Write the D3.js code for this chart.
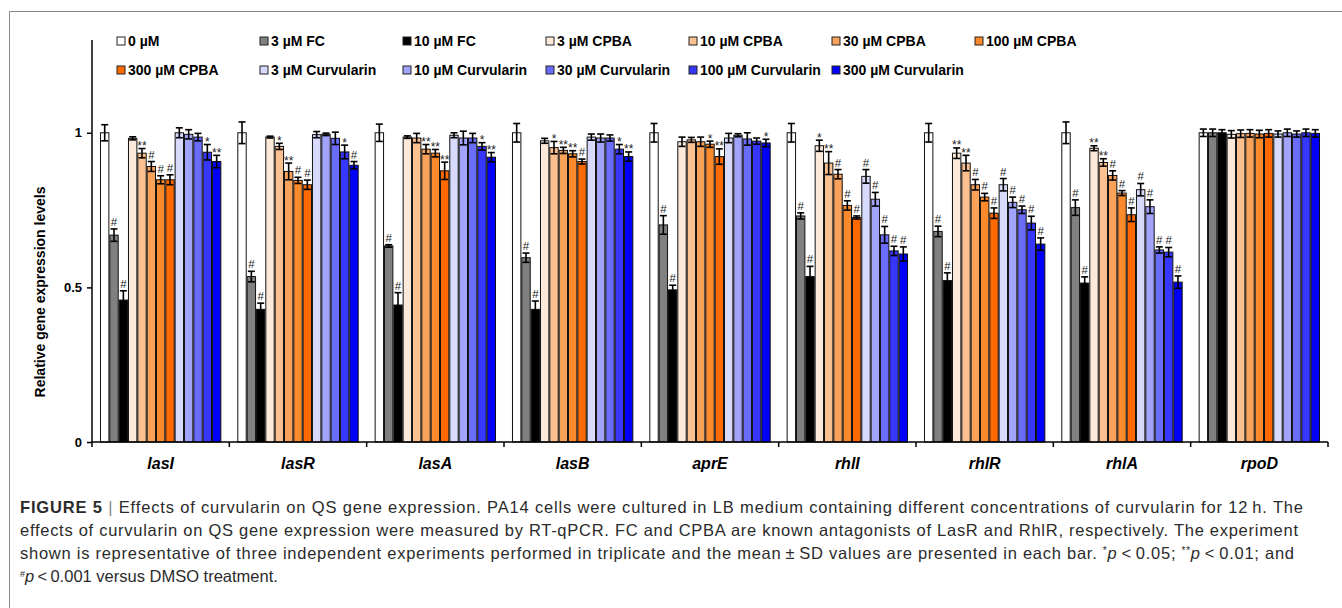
<!DOCTYPE html>
<html>
<head>
<meta charset="utf-8">
<script src="https://cdn.jsdelivr.net/npm/d3@7"></script>
<style>
  body { margin: 0; background: #fff; }
  svg { display: block; font-family: Arial, "Liberation Sans", Helvetica, sans-serif; }
</style>
</head>
<body>
<div id="top"></div>
<script>
// genes on the x axis
var genes = ['lasI', 'lasR', 'lasA', 'lasB', 'aprE', 'rhlI', 'rhlR', 'rhlA', 'rpoD'];

// treatments (legend order)
var series = ['0 µM', '3 µM FC', '10 µM FC', '3 µM CPBA', '10 µM CPBA', '30 µM CPBA', '100 µM CPBA',
  '300 µM CPBA', '3 µM Curvularin', '10 µM Curvularin', '30 µM Curvularin', '100 µM Curvularin', '300 µM Curvularin'];
var colors = ['#ffffff', '#808080', '#000000', '#fde9d9', '#fac090', '#f9a25a', '#fa8a2c',
  '#ff6a00', '#d8dafd', '#a2a4fc', '#6a6cfb', '#3636fc', '#0000fa'];

// mean values, one row per gene, one column per treatment
var means = [
  [1.00, 0.669, 0.459, 0.982, 0.934, 0.891, 0.848, 0.848, 1.000, 0.995, 0.986, 0.937, 0.907],
  [1.00, 0.535, 0.429, 0.986, 0.956, 0.875, 0.846, 0.832, 0.994, 0.995, 0.982, 0.938, 0.895],
  [1.00, 0.634, 0.443, 0.986, 0.983, 0.947, 0.934, 0.877, 0.992, 0.983, 0.983, 0.956, 0.921],
  [1.00, 0.596, 0.429, 0.974, 0.952, 0.943, 0.932, 0.907, 0.986, 0.983, 0.983, 0.947, 0.923],
  [1.00, 0.702, 0.492, 0.971, 0.977, 0.971, 0.963, 0.923, 0.983, 0.992, 0.980, 0.973, 0.967],
  [1.00, 0.731, 0.535, 0.958, 0.902, 0.866, 0.765, 0.726, 0.859, 0.785, 0.670, 0.618, 0.608],
  [1.00, 0.681, 0.522, 0.934, 0.902, 0.832, 0.792, 0.740, 0.832, 0.775, 0.751, 0.708, 0.640],
  [1.00, 0.758, 0.514, 0.950, 0.904, 0.862, 0.805, 0.735, 0.816, 0.761, 0.621, 0.614, 0.517],
  [1.00, 1.000, 1.000, 0.995, 0.997, 0.998, 0.996, 0.998, 0.996, 1.000, 0.996, 1.000, 0.998]
];

// standard deviations
var errs = [
  [0.026, 0.020, 0.030, 0.005, 0.015, 0.016, 0.013, 0.016, 0.016, 0.015, 0.012, 0.025, 0.020],
  [0.035, 0.017, 0.020, 0.003, 0.010, 0.027, 0.010, 0.015, 0.010, 0.004, 0.020, 0.022, 0.012],
  [0.028, 0.004, 0.040, 0.004, 0.015, 0.015, 0.012, 0.028, 0.008, 0.022, 0.015, 0.012, 0.015],
  [0.030, 0.015, 0.027, 0.008, 0.020, 0.010, 0.010, 0.008, 0.010, 0.013, 0.010, 0.015, 0.015],
  [0.030, 0.030, 0.015, 0.015, 0.008, 0.015, 0.010, 0.025, 0.015, 0.005, 0.020, 0.010, 0.012],
  [0.030, 0.010, 0.033, 0.018, 0.037, 0.015, 0.015, 0.005, 0.022, 0.022, 0.027, 0.015, 0.023],
  [0.030, 0.017, 0.025, 0.017, 0.025, 0.017, 0.012, 0.017, 0.020, 0.017, 0.012, 0.022, 0.020],
  [0.035, 0.025, 0.020, 0.008, 0.012, 0.015, 0.008, 0.022, 0.020, 0.022, 0.010, 0.015, 0.020],
  [0.012, 0.012, 0.010, 0.012, 0.012, 0.012, 0.012, 0.012, 0.010, 0.012, 0.010, 0.012, 0.012]
];

// significance marks
var marks = [
  ['', '#', '#', '', '**', '#', '#', '#', '', '', '', '*', '**'],
  ['', '#', '#', '', '*', '**', '#', '#', '', '', '', '*', '#'],
  ['', '#', '#', '', '', '**', '**', '**', '', '', '', '*', '**'],
  ['', '#', '#', '', '*', '**', '**', '#', '', '', '', '*', '**'],
  ['', '#', '#', '', '', '', '*', '**', '', '', '', '', '*'],
  ['', '#', '#', '*', '**', '#', '#', '#', '#', '#', '#', '#', '#'],
  ['', '#', '#', '**', '**', '#', '#', '#', '#', '#', '#', '#', '#'],
  ['', '#', '#', '**', '**', '#', '#', '#', '#', '#', '#', '#', '#'],
  ['', '', '', '', '', '', '', '', '', '', '', '', '']
];

var yTicks = [0, 0.5, 1];
var yLabel = 'Relative gene expression levels';

var width = 1342, height = 608;
var svg = d3.select('#top').append('svg').attr('width', width).attr('height', height);

// figure frame (top and left rule)
svg.append('path').attr('d', 'M9.5,608V11.5H1342').attr('fill', 'none').attr('stroke', '#8a8a8a').attr('stroke-width', 1);

var plotLeft = 92, plotRight = 1328, plotBottom = 442, plotTop = 40;

var y = d3.scaleLinear().domain([0, 1.3]).range([plotBottom, plotTop]);
var x0 = d3.scaleBand().domain(genes).range([plotLeft, plotRight]).paddingInner(0.11).paddingOuter(0.055);
var x1 = d3.scaleBand().domain(d3.range(series.length)).range([0, x0.bandwidth()]).padding(0.1);

var rows = [];
genes.forEach(function(g, gi) {
  series.forEach(function(s, si) {
    rows.push({ gene: g, si: si, v: means[gi][si], e: errs[gi][si], m: marks[gi][si] });
  });
});

var plot = svg.append('g');

plot.selectAll('.bar').data(rows).enter().append('rect')
  .attr('class', 'bar')
  .attr('x', function(d) { return x0(d.gene) + x1(d.si); })
  .attr('width', x1.bandwidth())
  .attr('y', function(d) { return y(d.v); })
  .attr('height', function(d) { return y(0) - y(d.v); })
  .attr('fill', function(d) { return colors[d.si]; })
  .attr('stroke', '#111')
  .attr('stroke-width', 1);

// error bars
function cx(d) { return x0(d.gene) + x1(d.si) + x1.bandwidth() / 2; }
var eb = plot.selectAll('.err').data(rows).enter().append('g').attr('class', 'err')
  .attr('stroke', '#000').attr('stroke-width', 1.6);
eb.append('line')
  .attr('x1', cx).attr('x2', cx)
  .attr('y1', function(d) { return y(d.v - d.e); })
  .attr('y2', function(d) { return y(d.v + d.e); });
eb.append('line')
  .attr('x1', function(d) { return cx(d) - 3.5; }).attr('x2', function(d) { return cx(d) + 3.5; })
  .attr('y1', function(d) { return y(d.v + d.e); }).attr('y2', function(d) { return y(d.v + d.e); });
eb.append('line')
  .attr('x1', function(d) { return cx(d) - 3.5; }).attr('x2', function(d) { return cx(d) + 3.5; })
  .attr('y1', function(d) { return y(d.v - d.e); }).attr('y2', function(d) { return y(d.v - d.e); });

// significance marks
plot.selectAll('.mark').data(rows.filter(function(d) { return d.m; })).enter().append('text')
  .attr('class', 'mark')
  .attr('x', cx)
  .attr('y', function(d) { return y(d.v + d.e) - (d.m === '#' ? 3 : -1.5); })
  .attr('text-anchor', 'middle')
  .attr('font-size', function(d) { return d.m === '#' ? 11.5 : 12; })
  .attr('fill', '#222')
  .text(function(d) { return d.m; });

// axes
var yAxis = d3.axisLeft(y).tickValues(yTicks).tickSize(5).tickFormat(d3.format('~g'));
var gy = svg.append('g').attr('transform', 'translate(' + plotLeft + ',0)').call(yAxis);
gy.select('.domain').attr('d', 'M0,' + plotTop + 'V' + plotBottom).attr('stroke-width', 1.5);
gy.selectAll('.tick line').attr('stroke-width', 1.5);
gy.selectAll('.tick text').attr('font-size', 13).attr('font-weight', 'bold').attr('fill', '#000')
  .attr('font-family', 'Arial, "Liberation Sans", sans-serif').attr('dx', -2);

var gx = svg.append('g').attr('transform', 'translate(0,' + plotBottom + ')');
gx.append('line').attr('x1', plotLeft).attr('x2', plotRight).attr('stroke', '#000').attr('stroke-width', 1.5);
var bounds = genes.map(function(g) { return x0(g) - x0.step() * 0.055; }).concat([plotRight]);
gx.selectAll('.xt').data(bounds).enter().append('line')
  .attr('x1', function(d) { return d; }).attr('x2', function(d) { return d; })
  .attr('y1', 0).attr('y2', 5).attr('stroke', '#000').attr('stroke-width', 1.5);
gx.selectAll('.gl').data(genes).enter().append('text')
  .attr('x', function(g) { return x0(g) + x0.bandwidth() / 2; })
  .attr('y', 27)
  .attr('text-anchor', 'middle')
  .attr('font-size', 16).attr('font-weight', 'bold').attr('font-style', 'italic')
  .text(function(g) { return g; });

svg.append('text')
  .attr('transform', 'translate(45,292) rotate(-90)')
  .attr('text-anchor', 'middle')
  .attr('font-size', 14).attr('font-weight', 'bold')
  .text(yLabel);

// legend
var leg = svg.append('g').selectAll('.li').data(series).enter().append('g')
  .attr('transform', function(d, i) {
    var col = i % 7, row = Math.floor(i / 7);
    return 'translate(' + (117 + col * 143) + ',' + (41 + row * 29) + ')';
  });
leg.append('rect').attr('x', 0).attr('y', -4).attr('width', 8).attr('height', 8)
  .attr('fill', function(d, i) { return colors[i]; }).attr('stroke', '#222').attr('stroke-width', 1);
leg.append('text').attr('x', 11).attr('y', 5).attr('font-size', 14).attr('font-weight', 'bold')
  .text(function(d) { return d; });

// caption
var cap = svg.append('g').attr('fill', '#2b2b2b').attr('font-size', 16.5);
var l1 = cap.append('text').attr('x', 20).attr('y', 513).attr('textLength', 1283).attr('lengthAdjust', 'spacing');
l1.append('tspan').attr('font-weight', 'bold').text('FIGURE 5');
l1.append('tspan').attr('fill', '#888').text(' | ');
l1.append('tspan').text('Effects of curvularin on QS gene expression. PA14 cells were cultured in LB medium containing different concentrations of curvularin for 12\u2009h. The');
cap.append('text').attr('x', 20).attr('y', 536).attr('textLength', 1278).attr('lengthAdjust', 'spacing')
  .text('effects of curvularin on QS gene expression were measured by RT-qPCR. FC and CPBA are known antagonists of LasR and RhlR, respectively. The experiment');
var l3 = cap.append('text').attr('x', 20).attr('y', 559).attr('textLength', 1274).attr('lengthAdjust', 'spacing');
l3.append('tspan').text('shown is representative of three independent experiments performed in triplicate and the mean\u2009\u00b1\u2009SD values are presented in each bar. ');
l3.append('tspan').attr('font-size', 10).attr('dy', -5).text('*');
l3.append('tspan').attr('font-style', 'italic').attr('dy', 5).text('p');
l3.append('tspan').text('\u2009<\u20090.05; ');
l3.append('tspan').attr('font-size', 10).attr('dy', -5).text('**');
l3.append('tspan').attr('font-style', 'italic').attr('dy', 5).text('p');
l3.append('tspan').text('\u2009<\u20090.01; and');
var l4 = cap.append('text').attr('x', 20).attr('y', 582);
l4.append('tspan').attr('font-size', 9).attr('dy', -5).text('#');
l4.append('tspan').attr('font-style', 'italic').attr('dy', 5).text('p');
l4.append('tspan').text('\u2009<\u20090.001 versus DMSO treatment.');
</script>
</body>
</html>
